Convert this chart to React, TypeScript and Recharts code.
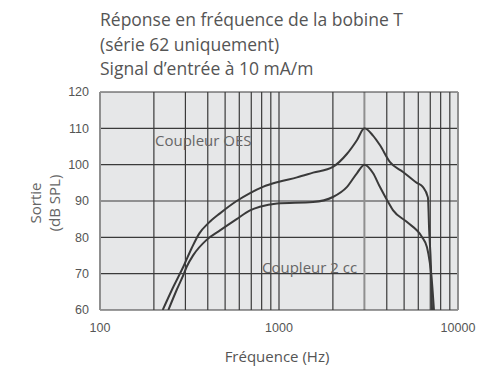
import React from 'react';
import {
  LineChart,
  Line,
  XAxis,
  YAxis,
  ReferenceLine,
  ReferenceArea,
} from 'recharts';

// Coupleur OES (upper curve)
const oesFreq = [224, 257, 292, 325, 359, 403, 468, 580, 689, 813, 1000, 1260, 1550, 2000, 2400, 2730, 3000, 3350, 3660, 4170, 4930, 5890, 6360, 6790, 6900, 7060, 7160];
const oesLevel = [60, 66.4, 71.9, 77, 81.1, 83.9, 86.6, 90, 92.2, 93.9, 95.3, 96.5, 97.8, 99.4, 103, 106.8, 110, 108, 105.4, 100.7, 98, 95, 93.9, 91, 82, 72, 60];

// Coupleur 2 cc (lower curve)
const ccFreq = [241, 268, 292, 305, 332, 394, 468, 580, 689, 782, 976, 1550, 2000, 2400, 2730, 3000, 3350, 3660, 4010, 4330, 5190, 6290, 6710, 7160, 7340];
const ccLevel = [60, 65.5, 69.6, 71.9, 75.1, 79.3, 81.9, 85, 87.4, 88.4, 89.3, 89.7, 91.1, 93.9, 97.7, 100, 97.7, 93.9, 90.3, 87.5, 84.2, 80.1, 77.3, 67.4, 60];

const xTicks = [100, 1000, 10000];
const yTicks = [60, 70, 80, 90, 100, 110, 120];
const gridFreqs = [200, 300, 400, 500, 600, 700, 800, 900, 1000, 2000, 4000, 5000, 6000, 7000, 8000, 9000];
const gridLevels = [70, 80, 90, 100, 110];

const oesData = oesFreq.map((f, i) => ({ f, v: oesLevel[i] }));
const ccData = ccFreq.map((f, i) => ({ f, v: ccLevel[i] }));

const textFont = '"Open Sans", sans-serif';
const tickFont = '"Liberation Sans", Arial, sans-serif';
const dark = '#3a3a3a';
const frame = '#8f8f8f';

export default function App() {
  return (
    <div style={{ position: 'absolute', left: 0, top: 0, width: 485, height: 369, background: '#fff' }}>
      <div
        style={{
          position: 'absolute',
          left: 100,
          top: 7,
          fontFamily: textFont,
          fontSize: 17.5,
          lineHeight: '24.5px',
          color: '#555',
          whiteSpace: 'nowrap',
        }}
      >
        <div>Réponse en fréquence de la bobine T</div>
        <div>(série 62 uniquement)</div>
        <div>Signal d’entrée à 10 mA/m</div>
      </div>

      <LineChart
        width={485}
        height={369}
        margin={{ top: 92, right: 27, bottom: 29, left: 0 }}
      >
        <XAxis
          dataKey="f"
          type="number"
          scale="log"
          domain={[100, 10000]}
          ticks={xTicks}
          allowDataOverflow
          axisLine={false}
          tickLine={false}
          tickSize={0}
          tickMargin={13}
          height={30}
          tick={{ fill: '#555', fontSize: 12.5, fontFamily: tickFont }}
        />
        <YAxis
          type="number"
          domain={[60, 120]}
          ticks={yTicks}
          allowDataOverflow
          axisLine={false}
          tickLine={false}
          tickSize={0}
          tickMargin={11}
          width={100}
          tick={{ fill: '#555', fontSize: 12.5, fontFamily: tickFont }}
        />
        <ReferenceArea x1={100} x2={10000} y1={60} y2={120} fill="#e6e7e8" fillOpacity={1} stroke="none" />
        {gridFreqs.map((f) => (
          <ReferenceLine key={`vx-${f}`} x={f} stroke={dark} strokeWidth={1.2} />
        ))}
        {gridLevels.map((l) => (
          <ReferenceLine key={`hy-${l}`} y={l} stroke={dark} strokeWidth={1.2} />
        ))}
        <ReferenceLine x={3000} stroke={frame} strokeWidth={2} />
        <ReferenceLine y={120} stroke={dark} strokeWidth={1.2} />
        <ReferenceLine y={60} stroke={dark} strokeWidth={1.2} />
        <ReferenceLine x={100} stroke={frame} strokeWidth={2} />
        <ReferenceLine x={10000} stroke={frame} strokeWidth={2} />
        <Line
          data={oesData}
          dataKey="v"
          type="monotone"
          stroke={dark}
          strokeWidth={2}
          dot={false}
          isAnimationActive={false}
        />
        <Line
          data={ccData}
          dataKey="v"
          type="monotone"
          stroke={dark}
          strokeWidth={2}
          dot={false}
          isAnimationActive={false}
        />
      </LineChart>

      {/* annotations */}
      <div style={{ position: 'absolute', left: 155, top: 130, fontFamily: textFont, fontSize: 15, color: '#666', whiteSpace: 'nowrap' }}>
        Coupleur OES
      </div>
      <div style={{ position: 'absolute', left: 262, top: 257, fontFamily: textFont, fontSize: 15, color: '#666', whiteSpace: 'nowrap' }}>
        Coupleur 2 cc
      </div>

      {/* y axis title */}
      <div
        style={{
          position: 'absolute',
          left: 44.5,
          top: 203,
          transform: 'translate(-50%, -50%) rotate(-90deg)',
          fontFamily: textFont,
          fontSize: 15,
          lineHeight: '19px',
          color: '#666',
          textAlign: 'center',
          whiteSpace: 'nowrap',
        }}
      >
        <div>Sortie</div>
        <div>(dB SPL)</div>
      </div>

      {/* x axis title */}
      <div
        style={{
          position: 'absolute',
          left: 277,
          top: 346,
          transform: 'translateX(-50%)',
          fontFamily: textFont,
          fontSize: 15,
          color: '#555',
          whiteSpace: 'nowrap',
        }}
      >
        Fréquence (Hz)
      </div>
    </div>
  );
}
